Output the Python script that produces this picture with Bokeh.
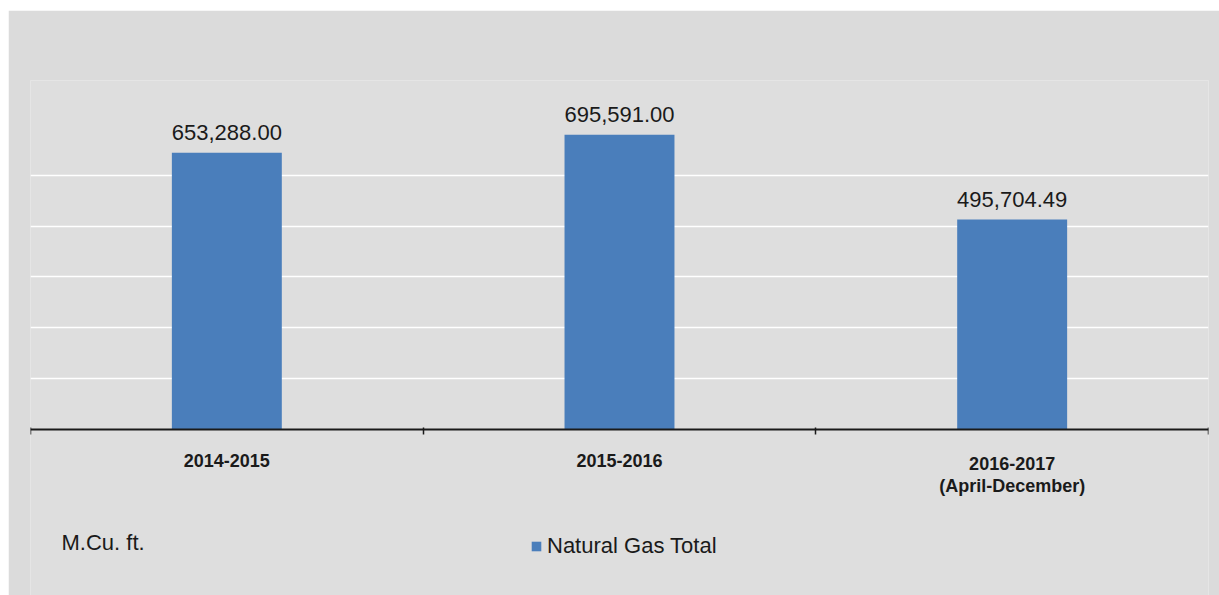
from bokeh.plotting import figure
from bokeh.models import Range1d, FixedTicker, Label, ColumnDataSource, Spacer
from bokeh.layouts import column, row
from bokeh.core.properties import value
from bokeh.embed import file_html
from bokeh.resources import INLINE

categories = ["2014-2015", "2015-2016", "2016-2017\n(April-December)"]
gas_total = [653288.00, 695591.00, 495704.49]
series_name = "Natural Gas Total"
unit_label = "M.Cu. ft."
grid_values = [120000, 240000, 360000, 480000, 600000]

FONT = "Liberation Sans"
BAR = "#4a7ebb"
TXT = "#1a1a1a"

xs = [i + 0.5 for i in range(len(categories))]
src = ColumnDataSource(dict(
    x=xs, top=gas_total,
    lbl=[f"{v:,.2f}" for v in gas_total],
    zero=[0] * len(categories),
    cat=categories,
))

p = figure(width=1211, height=585, output_backend="svg", toolbar_location=None,
           x_range=Range1d(0, len(categories)), y_range=Range1d(-391760, 823640),
           y_axis_location=None,
           min_border_left=22, min_border_right=11, min_border_top=70, min_border_bottom=0)
p.border_fill_color = "#dbdbdb"
p.background_fill_color = "#dedede"
p.outline_line_color = None

p.xgrid.visible = False
p.ygrid.ticker = FixedTicker(ticks=grid_values)
p.ygrid.grid_line_color = "white"
p.ygrid.grid_line_width = 1.5

r = p.vbar(x="x", top="top", width=0.28, source=src, fill_color=BAR, line_color=None,
           legend_label=series_name)

p.text(x="x", y="top", text="lbl", source=src, y_offset=-20,
       text_align="center", text_baseline="alphabetic",
       text_font=value(FONT), text_font_size="22px", text_color=TXT)

# category labels under the axis
p.text(x="x", y="zero", text="cat", source=src, y_offset=24,
       text_align="center", text_baseline="top", text_line_height=1.1,
       text_font=value(FONT), text_font_size="18px", text_font_style="bold",
       text_color=TXT)

ax = p.xaxis[0]
ax.fixed_location = 0
ax.ticker = FixedTicker(ticks=[], minor_ticks=list(range(len(categories) + 1)))
ax.major_label_text_font_size = "0px"
ax.major_label_standoff = 0
ax.major_tick_line_color = None
ax.major_tick_out = 0
ax.major_tick_in = 0
ax.minor_tick_out = 5
ax.minor_tick_in = 2
ax.minor_tick_line_color = TXT
ax.minor_tick_line_width = 1.5
ax.axis_line_color = TXT
ax.axis_line_width = 2

lg = p.legend[0]
lg.location = (500, 36)
lg.orientation = "horizontal"
lg.background_fill_alpha = 0
lg.border_line_color = None
lg.padding = 0
lg.margin = 0
lg.glyph_width = 12
lg.glyph_height = 12
lg.label_standoff = 5
lg.label_text_font = FONT
lg.label_text_font_size = "22px"
lg.label_text_color = TXT

p.add_layout(Label(x=31, y=53, x_units="screen", y_units="screen", text=unit_label,
                   text_font=FONT, text_font_size="22px", text_color=TXT,
                   text_baseline="alphabetic"))

page = column(Spacer(height=10), row(Spacer(width=8), p))
open("out.html", "w").write(file_html(page, INLINE))
